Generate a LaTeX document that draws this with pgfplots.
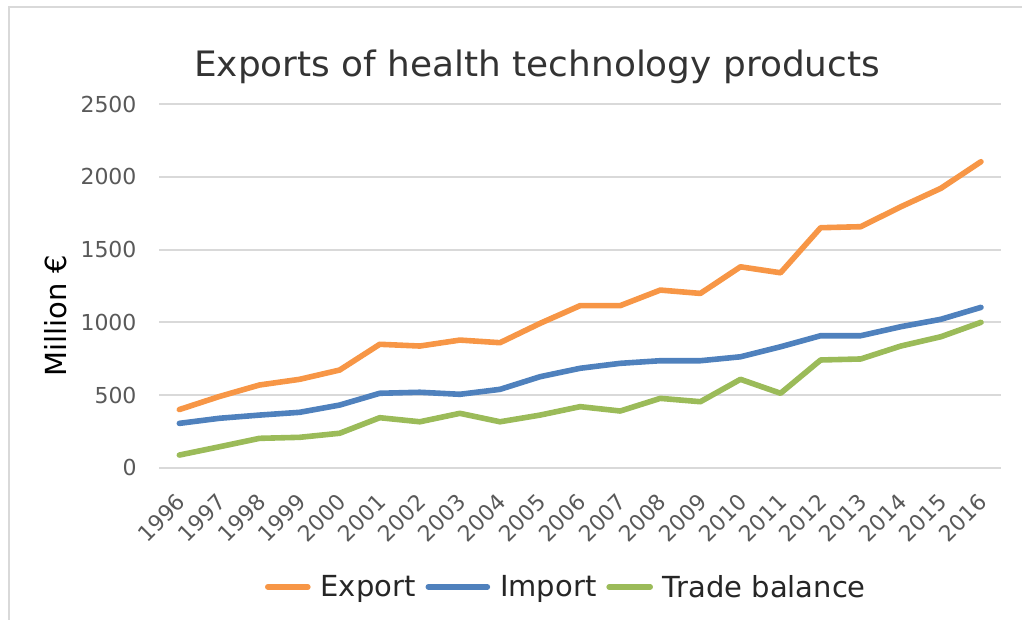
\documentclass[border=0pt]{standalone}
\usepackage{pgfplots}
\pgfplotsset{compat=1.18}
\usepackage{fontspec}
\setmainfont{DejaVu Sans}
\definecolor{cExp}{HTML}{F79646}
\definecolor{cImp}{HTML}{4F81BD}
\definecolor{cTrd}{HTML}{9BBB59}
\definecolor{cGrid}{HTML}{D9D9D9}
\definecolor{cTick}{HTML}{595959}
\definecolor{cTitle}{HTML}{333333}
\definecolor{cLeg}{HTML}{262626}
\pgfplotstableread{
x exp imp trd
0 400 305 87
1 490 340 144
2 569 362 202
3 608 381 209
4 672 431 237
5 849 512 344
6 837 519 316
7 878 505 374
8 860 539 316
9 993 626 362
10 1115 684 420
11 1115 718 390
12 1222 736 477
13 1199 736 454
14 1382 763 608
15 1341 832 512
16 1651 908 741
17 1658 908 748
18 1795 970 837
19 1922 1021 901
20 2105 1103 1000
}\datatable
\begin{document}
\begin{tikzpicture}[x=1pt,y=1pt]
\useasboundingbox (0,0) rectangle (1022,-620);
\draw[cGrid, line width=2pt] (9,-625) -- (9,-7) -- (1030,-7);
\node[anchor=base west, inner sep=0pt, text=cTitle, font=\fontsize{35}{40}\selectfont] at (194,-76.5) {\scalebox{1.025}[1]{Exports of health technology products}};
\begin{axis}[
  at={(159.3pt,-467.7pt)}, anchor=south west,
  scale only axis, width=841.7pt, height=363.4pt,
  xmin=-0.5, xmax=20.5, ymin=0, ymax=2500,
  clip=false,
  axis line style={draw=none},
  major tick length=0pt,
  ymajorgrids, grid style={cGrid, line width=1.7pt},
  xtick={0,...,20},
  xticklabels={1996,1997,1998,1999,2000,2001,2002,2003,2004,2005,2006,2007,2008,2009,2010,2011,2012,2013,2014,2015,2016},
  ytick={0,500,1000,1500,2000,2500},
  /pgf/number format/assume math mode=true,
  /pgf/number format/1000 sep={},
  yticklabel style={inner sep=0pt, anchor=east, xshift=-22.6pt, text=cTick, font=\fontsize{22}{26}\selectfont},
  xticklabel style={inner sep=0pt, yshift=-30pt, xshift=2pt, rotate=45, anchor=east, text=cTick, font=\fontsize{22}{26}\selectfont},
  ylabel={Million €},
  ylabel style={at={(axis description cs:-0.1227,0.4175)}, anchor=center, rotate=0, text=black, font=\fontsize{29}{34}\selectfont},
  legend columns=3,
  legend style={draw=none, fill=none, inner sep=0pt, outer sep=0pt,
    at={(axis description cs:0.1256,-0.328)}, anchor=west,
    nodes={inner sep=0pt, text=cLeg, font=\fontsize{29}{34}\selectfont},
    column sep=10pt,
    /tikz/every even column/.append style={column sep=10pt}},
  every axis plot/.append style={line width=5.6pt, line cap=round, line join=round},
]
\addplot[cExp, legend image code/.code={\path (0pt,0pt) -- (40pt,0pt); \draw[cExp, line width=6pt, line cap=round] (3pt,0pt) -- (37pt,0pt);}] table[x=x,y=exp] {\datatable};
\addlegendentry{Export}
\addplot[cImp, legend image code/.code={\path (0pt,0pt) -- (59pt,0pt); \draw[cImp, line width=6pt, line cap=round] (3pt,0pt) -- (56pt,0pt);}] table[x=x,y=imp] {\datatable};
\addlegendentry{Import}
\addplot[cTrd, legend image code/.code={\path (0pt,0pt) -- (41pt,0pt); \draw[cTrd, line width=6pt, line cap=round] (3pt,0pt) -- (38pt,0pt);}] table[x=x,y=trd] {\datatable};
\addlegendentry{Trade balance}
\end{axis}
\end{tikzpicture}
\end{document}
